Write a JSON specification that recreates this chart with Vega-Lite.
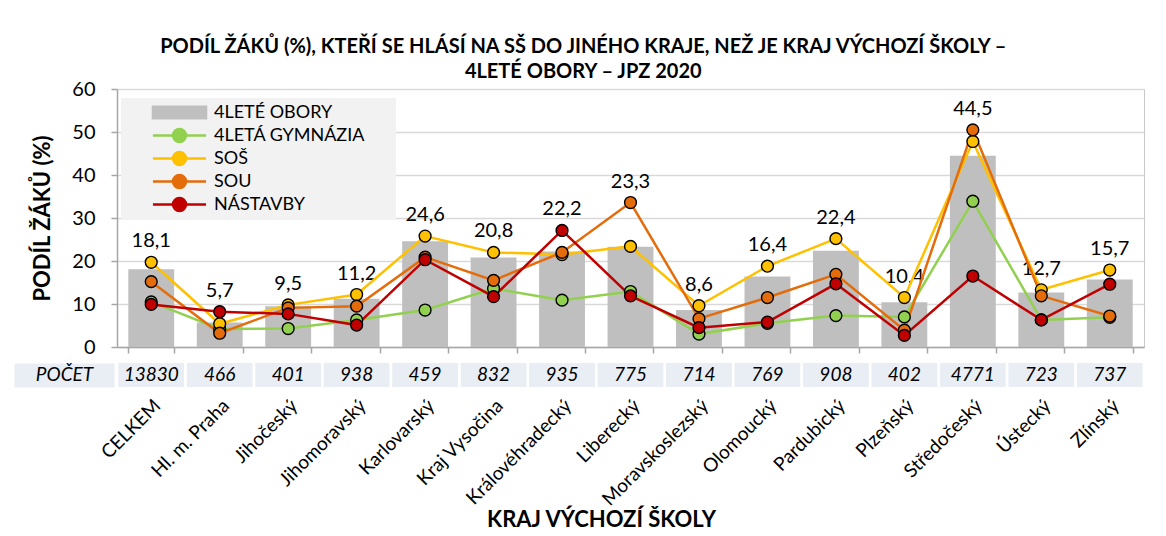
{
  "$schema": "https://vega.github.io/schema/vega-lite/v6.json",
  "background": "white",
  "padding": {"left": 2, "top": 36, "right": 5, "bottom": 3},
  "config": {
    "font": "Lato",
    "locale": {"number": {"decimal": ",", "thousands": " ", "grouping": [3], "currency": ["", " Kč"]}},
    "view": {"stroke": "#c8c8c8"},
    "axis": {"labelColor": "#000", "titleColor": "#000", "labelFont": "Lato", "titleFont": "Lato"}
  },
  "title": {
    "text": ["PODÍL ŽÁKŮ (%), KTEŘÍ SE HLÁSÍ NA SŠ DO JINÉHO KRAJE, NEŽ JE KRAJ VÝCHOZÍ ŠKOLY –", "4LETÉ OBORY –  JPZ 2020"],
    "fontSize": 20, "fontWeight": "bold", "font": "Lato", "anchor": "middle", "lineHeight": 25, "offset": -3, "dx": 10, "color": "#000"
  },
  "datasets": {
    "main": [
      {"kraj": "CELKEM", "serie": "4LETÉ OBORY", "hodnota": 18.1},
      {"kraj": "CELKEM", "serie": "4LETÁ GYMNÁZIA", "hodnota": 10.5},
      {"kraj": "CELKEM", "serie": "SOŠ", "hodnota": 19.7},
      {"kraj": "CELKEM", "serie": "SOU", "hodnota": 15.2},
      {"kraj": "CELKEM", "serie": "NÁSTAVBY", "hodnota": 9.9},
      {"kraj": "Hl. m. Praha", "serie": "4LETÉ OBORY", "hodnota": 5.7},
      {"kraj": "Hl. m. Praha", "serie": "4LETÁ GYMNÁZIA", "hodnota": 4.2},
      {"kraj": "Hl. m. Praha", "serie": "SOŠ", "hodnota": 5.4},
      {"kraj": "Hl. m. Praha", "serie": "SOU", "hodnota": 3.2},
      {"kraj": "Hl. m. Praha", "serie": "NÁSTAVBY", "hodnota": 8.2},
      {"kraj": "Jihočeský", "serie": "4LETÉ OBORY", "hodnota": 9.5},
      {"kraj": "Jihočeský", "serie": "4LETÁ GYMNÁZIA", "hodnota": 4.3},
      {"kraj": "Jihočeský", "serie": "SOŠ", "hodnota": 9.8},
      {"kraj": "Jihočeský", "serie": "SOU", "hodnota": 9.1},
      {"kraj": "Jihočeský", "serie": "NÁSTAVBY", "hodnota": 7.7},
      {"kraj": "Jihomoravský", "serie": "4LETÉ OBORY", "hodnota": 11.2},
      {"kraj": "Jihomoravský", "serie": "4LETÁ GYMNÁZIA", "hodnota": 6.3},
      {"kraj": "Jihomoravský", "serie": "SOŠ", "hodnota": 12.2},
      {"kraj": "Jihomoravský", "serie": "SOU", "hodnota": 9.5},
      {"kraj": "Jihomoravský", "serie": "NÁSTAVBY", "hodnota": 5.1},
      {"kraj": "Karlovarský", "serie": "4LETÉ OBORY", "hodnota": 24.6},
      {"kraj": "Karlovarský", "serie": "4LETÁ GYMNÁZIA", "hodnota": 8.6},
      {"kraj": "Karlovarský", "serie": "SOŠ", "hodnota": 25.8},
      {"kraj": "Karlovarský", "serie": "SOU", "hodnota": 20.9},
      {"kraj": "Karlovarský", "serie": "NÁSTAVBY", "hodnota": 20.3},
      {"kraj": "Kraj Vysočina", "serie": "4LETÉ OBORY", "hodnota": 20.8},
      {"kraj": "Kraj Vysočina", "serie": "4LETÁ GYMNÁZIA", "hodnota": 13.6},
      {"kraj": "Kraj Vysočina", "serie": "SOŠ", "hodnota": 22.0},
      {"kraj": "Kraj Vysočina", "serie": "SOU", "hodnota": 15.5},
      {"kraj": "Kraj Vysočina", "serie": "NÁSTAVBY", "hodnota": 11.7},
      {"kraj": "Královéhradecký", "serie": "4LETÉ OBORY", "hodnota": 22.2},
      {"kraj": "Královéhradecký", "serie": "4LETÁ GYMNÁZIA", "hodnota": 10.9},
      {"kraj": "Královéhradecký", "serie": "SOŠ", "hodnota": 21.5},
      {"kraj": "Královéhradecký", "serie": "SOU", "hodnota": 22.0},
      {"kraj": "Královéhradecký", "serie": "NÁSTAVBY", "hodnota": 27.1},
      {"kraj": "Liberecký", "serie": "4LETÉ OBORY", "hodnota": 23.3},
      {"kraj": "Liberecký", "serie": "4LETÁ GYMNÁZIA", "hodnota": 12.9},
      {"kraj": "Liberecký", "serie": "SOŠ", "hodnota": 23.4},
      {"kraj": "Liberecký", "serie": "SOU", "hodnota": 33.6},
      {"kraj": "Liberecký", "serie": "NÁSTAVBY", "hodnota": 11.9},
      {"kraj": "Moravskoslezský", "serie": "4LETÉ OBORY", "hodnota": 8.6},
      {"kraj": "Moravskoslezský", "serie": "4LETÁ GYMNÁZIA", "hodnota": 3.0},
      {"kraj": "Moravskoslezský", "serie": "SOŠ", "hodnota": 9.6},
      {"kraj": "Moravskoslezský", "serie": "SOU", "hodnota": 6.6},
      {"kraj": "Moravskoslezský", "serie": "NÁSTAVBY", "hodnota": 4.5},
      {"kraj": "Olomoucký", "serie": "4LETÉ OBORY", "hodnota": 16.4},
      {"kraj": "Olomoucký", "serie": "4LETÁ GYMNÁZIA", "hodnota": 5.5},
      {"kraj": "Olomoucký", "serie": "SOŠ", "hodnota": 18.8},
      {"kraj": "Olomoucký", "serie": "SOU", "hodnota": 11.5},
      {"kraj": "Olomoucký", "serie": "NÁSTAVBY", "hodnota": 5.8},
      {"kraj": "Pardubický", "serie": "4LETÉ OBORY", "hodnota": 22.4},
      {"kraj": "Pardubický", "serie": "4LETÁ GYMNÁZIA", "hodnota": 7.3},
      {"kraj": "Pardubický", "serie": "SOŠ", "hodnota": 25.2},
      {"kraj": "Pardubický", "serie": "SOU", "hodnota": 16.9},
      {"kraj": "Pardubický", "serie": "NÁSTAVBY", "hodnota": 14.7},
      {"kraj": "Plzeňský", "serie": "4LETÉ OBORY", "hodnota": 10.4},
      {"kraj": "Plzeňský", "serie": "4LETÁ GYMNÁZIA", "hodnota": 7.0},
      {"kraj": "Plzeňský", "serie": "SOŠ", "hodnota": 11.5},
      {"kraj": "Plzeňský", "serie": "SOU", "hodnota": 3.9},
      {"kraj": "Plzeňský", "serie": "NÁSTAVBY", "hodnota": 2.7},
      {"kraj": "Středočeský", "serie": "4LETÉ OBORY", "hodnota": 44.5},
      {"kraj": "Středočeský", "serie": "4LETÁ GYMNÁZIA", "hodnota": 33.9},
      {"kraj": "Středočeský", "serie": "SOŠ", "hodnota": 47.8},
      {"kraj": "Středočeský", "serie": "SOU", "hodnota": 50.5},
      {"kraj": "Středočeský", "serie": "NÁSTAVBY", "hodnota": 16.5},
      {"kraj": "Ústecký", "serie": "4LETÉ OBORY", "hodnota": 12.7},
      {"kraj": "Ústecký", "serie": "4LETÁ GYMNÁZIA", "hodnota": 6.3},
      {"kraj": "Ústecký", "serie": "SOŠ", "hodnota": 13.3},
      {"kraj": "Ústecký", "serie": "SOU", "hodnota": 11.9},
      {"kraj": "Ústecký", "serie": "NÁSTAVBY", "hodnota": 6.3},
      {"kraj": "Zlínský", "serie": "4LETÉ OBORY", "hodnota": 15.7},
      {"kraj": "Zlínský", "serie": "4LETÁ GYMNÁZIA", "hodnota": 6.9},
      {"kraj": "Zlínský", "serie": "SOŠ", "hodnota": 17.9},
      {"kraj": "Zlínský", "serie": "SOU", "hodnota": 7.2},
      {"kraj": "Zlínský", "serie": "NÁSTAVBY", "hodnota": 14.6}
    ],
    "pocty": [
      {"kraj": "CELKEM", "pocet": 13830},
      {"kraj": "Hl. m. Praha", "pocet": 466},
      {"kraj": "Jihočeský", "pocet": 401},
      {"kraj": "Jihomoravský", "pocet": 938},
      {"kraj": "Karlovarský", "pocet": 459},
      {"kraj": "Kraj Vysočina", "pocet": 832},
      {"kraj": "Královéhradecký", "pocet": 935},
      {"kraj": "Liberecký", "pocet": 775},
      {"kraj": "Moravskoslezský", "pocet": 714},
      {"kraj": "Olomoucký", "pocet": 769},
      {"kraj": "Pardubický", "pocet": 908},
      {"kraj": "Plzeňský", "pocet": 402},
      {"kraj": "Středočeský", "pocet": 4771},
      {"kraj": "Ústecký", "pocet": 723},
      {"kraj": "Zlínský", "pocet": 737}
    ]
  },
  "spacing": 5,
  "vconcat": [
    {
      "width": 1027,
      "height": 258,
      "data": {"name": "main"},
      "encoding": {
        "x": {
          "field": "kraj", "type": "nominal", "sort": null,
          "scale": {"paddingInner": 0.33, "paddingOuter": 0.165},
          "axis": {"labels": false, "title": null, "tickBand": "extent", "tickSize": 6, "tickColor": "#a6a6a6", "tickWidth": 1.5, "domainColor": "#a6a6a6", "domainWidth": 1.5}
        }
      },
      "layer": [
        {
          "transform": [{"filter": "datum.serie === '4LETÉ OBORY'"}],
          "mark": {"type": "bar"},
          "encoding": {
            "y": {
              "field": "hodnota", "type": "quantitative", "title": "PODÍL ŽÁKŮ (%)",
              "scale": {"domain": [0, 60], "nice": false},
              "axis": {"values": [0, 10, 20, 30, 40, 50, 60], "titleFontSize": 22, "titleFontWeight": "bold", "labelFontSize": 20, "labelPadding": 16, "gridColor": "#d9d9d9", "gridWidth": 1.5, "tickColor": "#a6a6a6", "tickSize": 6, "tickWidth": 1.5, "domainColor": "#a6a6a6", "domainWidth": 1.5, "titlePadding": 17}
            },
            "color": {
              "field": "serie", "type": "nominal",
              "scale": {"domain": ["4LETÉ OBORY", "4LETÁ GYMNÁZIA", "SOŠ", "SOU", "NÁSTAVBY"], "range": ["#bfbfbf", "#92d050", "#ffc000", "#e46c0a", "#c00000"]},
              "legend": {
                "title": null, "orient": "none", "legendX": 4, "legendY": 9,
                "fillColor": "#f2f2f2", "padding": 4,
                "symbolSize": 324, "symbolOffset": 44, "labelOffset": 24,
                "labelFontSize": 18, "labelFont": "Lato", "labelColor": "#000", "rowPadding": 0, "labelLimit": 400,
                "labelExpr": "datum.label + '\u2800\u2800'",
                "encode": {
                  "symbols": {
                    "update": {
                      "shape": {"signal": "datum.value === '4LETÉ OBORY' ? 'M-2.95,-0.65H2.95V0.65H-2.95Z' : 'M-2.95,0H-0.72M0.72,0H2.95M0.72,0A0.72,0.72,0,1,1,-0.72,0A0.72,0.72,0,1,1,0.72,0Z'"},
                      "fill": {"scale": "color", "field": "value"},
                      "stroke": {"scale": "color", "field": "value"},
                      "opacity": {"value": 1},
                      "strokeWidth": {"value": 2.5}
                    }
                  }
                }
              }
            }
          }
        },
        {
          "transform": [
            {"joinaggregate": [{"op": "max", "field": "hodnota", "as": "vrchol"}], "groupby": ["kraj"]},
            {"filter": "datum.serie === '4LETÉ OBORY'"}
          ],
          "mark": {"type": "text", "fontSize": 20, "baseline": "middle", "dy": -21, "color": "#000"},
          "encoding": {
            "y": {"field": "vrchol", "type": "quantitative", "title": "PODÍL ŽÁKŮ (%)"},
            "text": {"field": "hodnota", "type": "quantitative", "format": ".1f"}
          }
        },
        {
          "transform": [{"filter": "datum.serie !== '4LETÉ OBORY'"}],
          "mark": {"type": "line", "strokeWidth": 2.5},
          "encoding": {
            "y": {"field": "hodnota", "type": "quantitative", "title": "PODÍL ŽÁKŮ (%)"},
            "color": {"field": "serie", "type": "nominal"}
          }
        },
        {
          "transform": [{"filter": "datum.serie !== '4LETÉ OBORY'"}],
          "mark": {"type": "point", "filled": true, "size": 140, "stroke": "#000", "strokeWidth": 1.4, "opacity": 1},
          "encoding": {
            "y": {"field": "hodnota", "type": "quantitative", "title": "PODÍL ŽÁKŮ (%)"},
            "color": {"field": "serie", "type": "nominal"}
          }
        }
      ]
    },
    {
      "width": 1027,
      "height": 24,
      "data": {"name": "pocty"},
      "view": {"stroke": null},
      "encoding": {
        "x": {
          "field": "kraj", "type": "nominal", "sort": null,
          "scale": {"paddingInner": 0.04, "paddingOuter": 0.02},
          "axis": {"title": "KRAJ VÝCHOZÍ ŠKOLY", "labelAngle": -45, "labelFontSize": 19, "ticks": false, "domain": false, "labelPadding": 9, "labelOffset": 0, "titleFontSize": 22, "titleFontWeight": "bold", "titlePadding": 0, "titleX": 484}
        },
        "y": {
          "datum": "POČET", "type": "nominal",
          "axis": {"title": null, "domain": false, "ticks": true, "tickSize": 100, "tickWidth": 24, "tickColor": "#e9edf4", "offset": 3, "labelAlign": "center", "labelPadding": -50, "labelFontSize": 19, "labelFontStyle": "italic"}
        }
      },
      "layer": [
        {"mark": {"type": "rect", "color": "#e9edf4"}},
        {
          "mark": {"type": "text", "fontSize": 19, "fontStyle": "italic", "color": "#000"},
          "encoding": {"text": {"field": "pocet", "type": "nominal"}}
        }
      ]
    }
  ]
}
